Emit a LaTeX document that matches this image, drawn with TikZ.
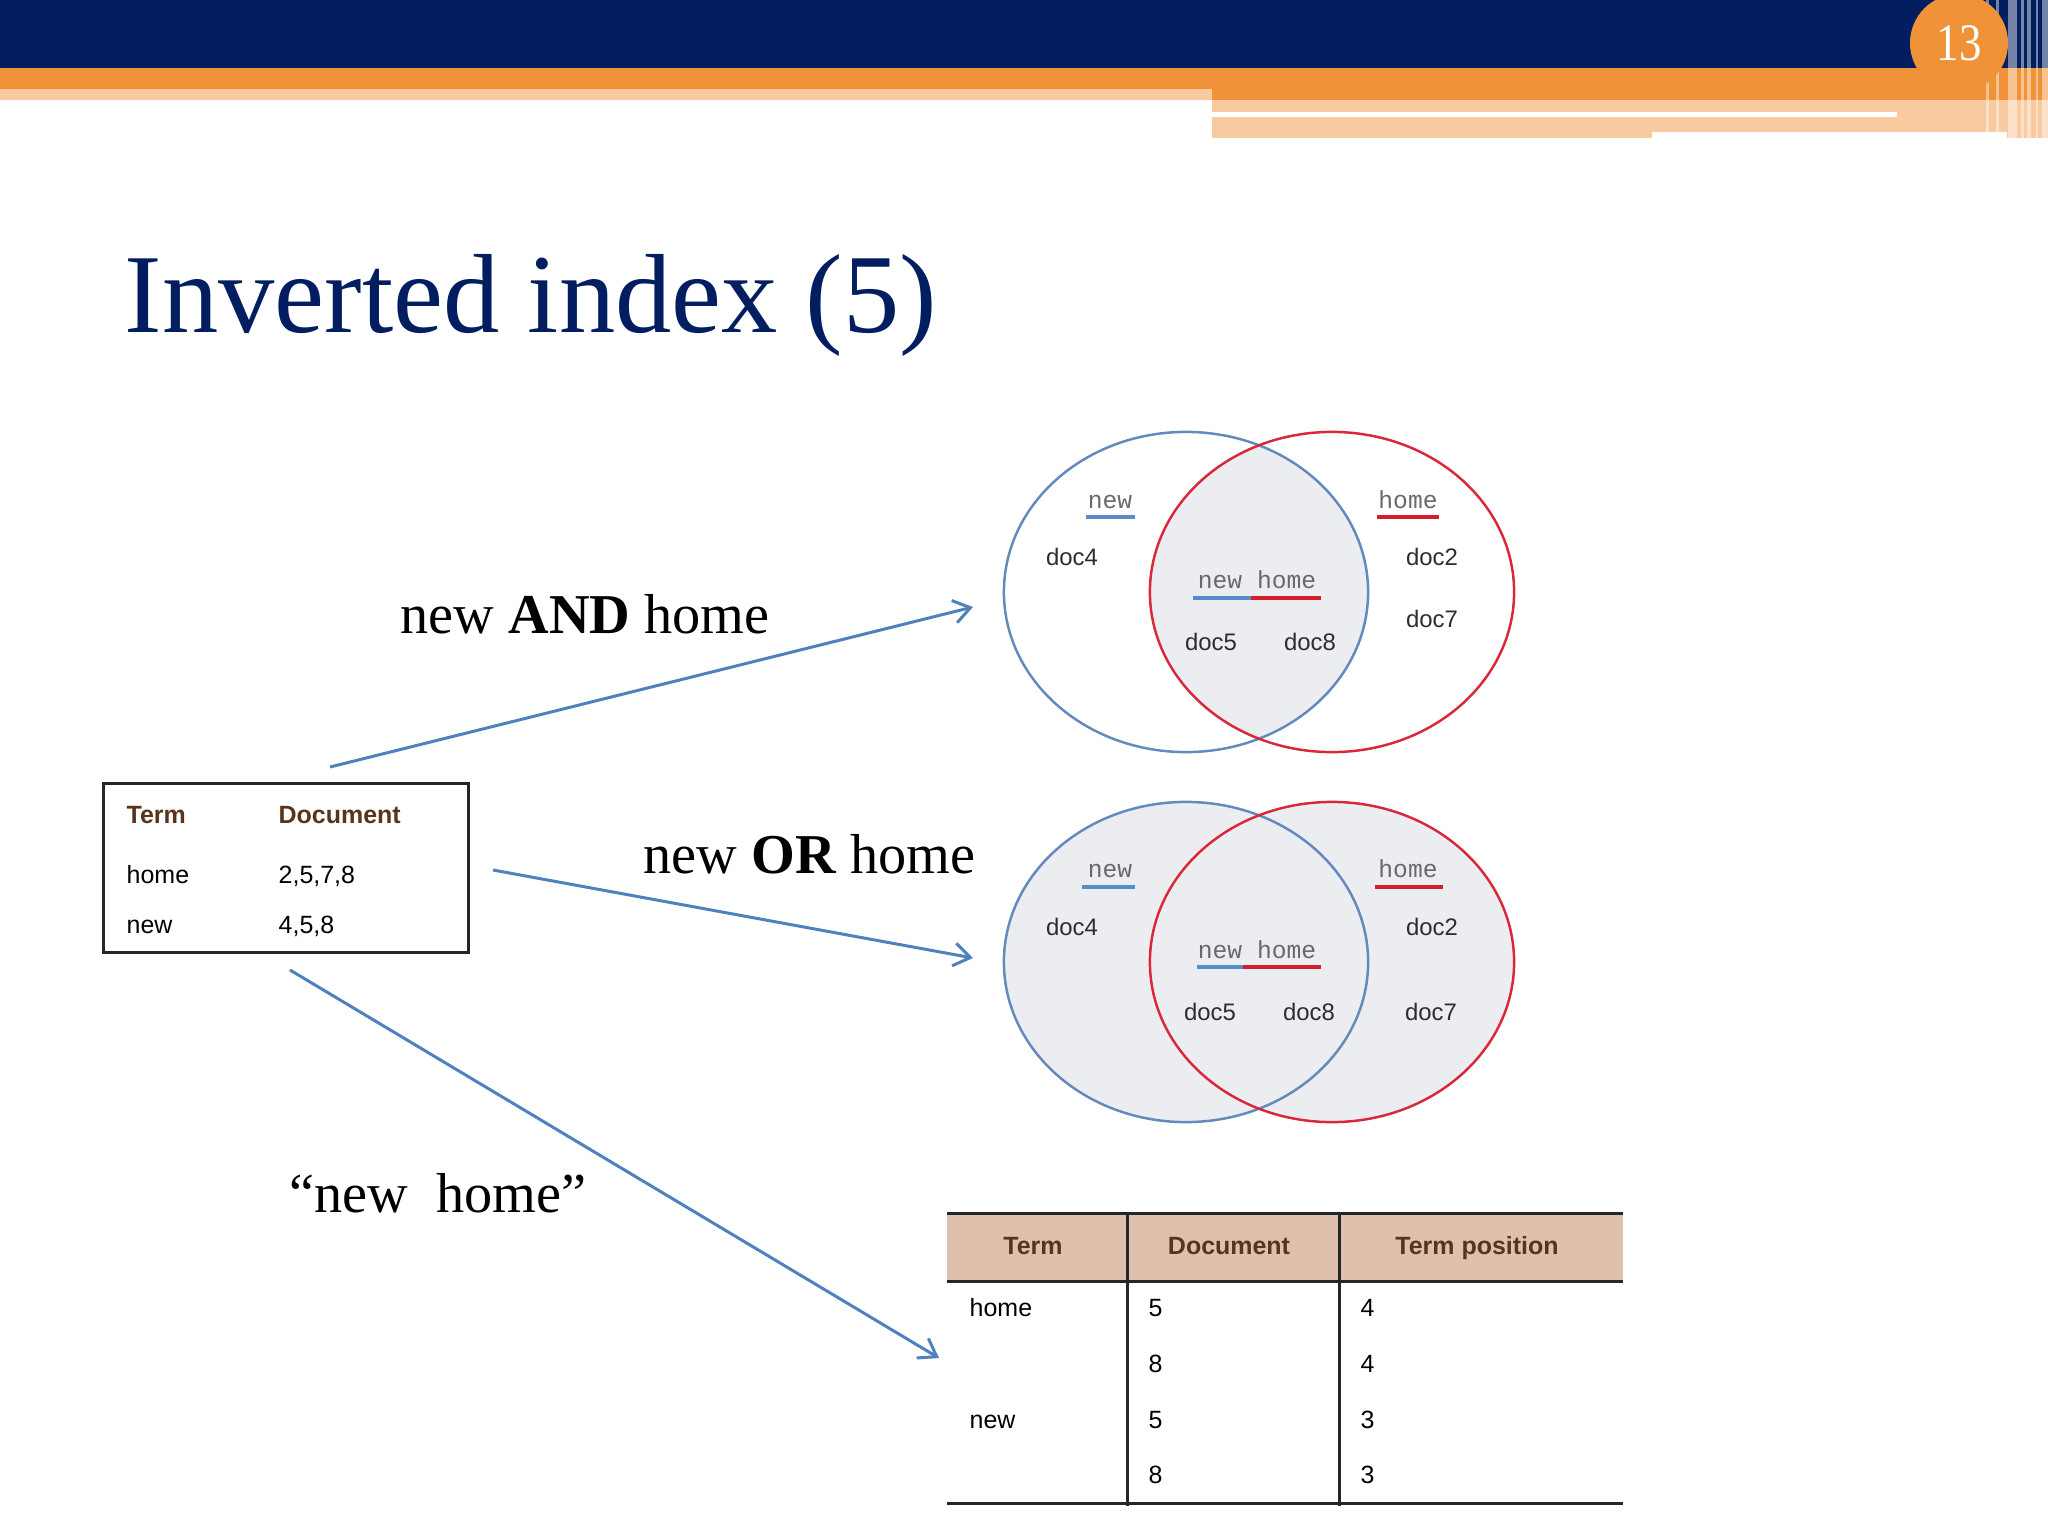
\documentclass[tikz,border=0pt]{standalone}
\usepackage{fontspec}
\setmainfont{Liberation Serif}
\setsansfont{Liberation Sans}
\setmonofont{Liberation Mono}
\usepackage{xcolor}
\usepackage{graphicx}
\usetikzlibrary{shapes,arrows.meta}

\definecolor{navy}{RGB}{2,30,96}
\definecolor{slideorange}{RGB}{240,146,56}
\definecolor{peach}{RGB}{248,202,160}
\definecolor{arrowblue}{RGB}{79,129,189}
\definecolor{vennblue}{RGB}{98,138,188}
\definecolor{vennred}{RGB}{218,40,58}
\definecolor{venngray}{RGB}{236,237,241}
\definecolor{barblue}{RGB}{88,140,200}
\definecolor{barred}{RGB}{210,30,45}
\definecolor{wordgray}{RGB}{105,105,105}
\definecolor{doctext}{RGB}{45,45,45}
\definecolor{headbrown}{RGB}{89,52,27}
\definecolor{tan}{RGB}{222,192,172}

\begin{document}
\begin{tikzpicture}[
    x=0.01cm, y=-0.01cm,
    slidetitle/.style={anchor=base west, inner sep=0pt, text=navy, font=\fontsize{32}{38}\selectfont},
    querylabel/.style={anchor=base west, inner sep=0pt, font=\fontsize{16}{19}\selectfont},
    vennring/.style={ellipse, draw, line width=0.7pt, minimum width=3.64cm, minimum height=3.2cm, inner sep=0pt},
    docname/.style={anchor=base, inner sep=0pt, text=doctext, font=\sffamily\fontsize{6.8}{8}\selectfont},
    termword/.style={anchor=base, inner sep=0pt, text=wordgray, font=\ttfamily\fontsize{7}{8}\selectfont},
    underbar/.style={line width=1pt},
    cellsans/.style={anchor=base west, inner sep=0pt, text=black, font=\sffamily\fontsize{7.1}{8.5}\selectfont},
    cellhead/.style={anchor=base west, inner sep=0pt, text=headbrown, font=\sffamily\bfseries\fontsize{7.1}{8.5}\selectfont},
    tablerule/.style={line width=0.85pt, black!85},
    link/.style={-{Straight Barb[length=4.7pt, width=6.5pt]}, line width=0.85pt, arrowblue}
]

% Page
\fill[white] (0,0) rectangle (2048,1536);
\useasboundingbox (0,0) rectangle (2048,1536);
\clip (0,0) rectangle (2048,1536);

% Slide header
\fill[navy] (0,0) rectangle (2048,68);
\fill[slideorange] (0,68) rectangle (2048,89);
\fill[slideorange] (1212,89) rectangle (2048,100);
\fill[peach] (0,89) rectangle (1212,100);
\fill[peach] (1212,100) rectangle (2048,138);
\fill[white] (1212,112) rectangle (1897,117);
\fill[white] (1652,132) rectangle (2007,138);
\fill[white, opacity=0.45] (1986,0) rectangle (1989,138);
\fill[white, opacity=0.45] (1996,0) rectangle (1999,138);
\fill[white, opacity=0.45] (2008,0) rectangle (2017,138);
\fill[white, opacity=0.45] (2021,0) rectangle (2024,138);
\fill[white, opacity=0.45] (2027,0) rectangle (2031,138);
\fill[white, opacity=0.45] (2036,0) rectangle (2038,138);
\fill[white, opacity=0.45] (2042,0) rectangle (2048,138);
\node[circle, fill=slideorange, minimum size=0.98cm, inner sep=0pt, text=white, font=\fontsize{15}{18}\selectfont] (pagenum) at (1959,43) {\scalebox{0.85}[1]{13}};

% Title
\node[slidetitle] (title) at (124,332) {Inverted index (5)};

% Term / document table
\node[draw=black!85, line width=0.85pt, minimum width=3.64cm, minimum height=1.69cm, inner sep=0pt] (postings) at (286,868) {};
\node[cellhead] (termhead) at (126,823) {Term};
\node[cellhead] (dochead) at (278,823) {Document};
\node[cellsans] (homerow) at (126,883) {home};
\node[cellsans] (homedocs) at (278,883) {2,5,7,8};
\node[cellsans] (newrow) at (126,933) {new};
\node[cellsans] (newdocs) at (278,933) {4,5,8};

% Query labels
\node[querylabel] (andlabel) at (400,633) {new \textbf{AND} home};
\node[querylabel] (orlabel) at (643,873) {new \textbf{OR} home};
\node[querylabel] (phraselabel) at (289,1212) {“new\ \ home”};

% AND diagram
\begin{scope}
\clip (1186,592) ellipse [x radius=1.82cm, y radius=1.6cm];
\fill[venngray] (1332,592) ellipse [x radius=1.82cm, y radius=1.6cm];
\end{scope}
\node[vennring, draw=vennblue] (andnew) at (1186,592) {};
\node[vennring, draw=vennred] (andhome) at (1332,592) {};
\node[termword] (andnewword) at (1110,508) {new};
\draw[underbar, barblue] (1086,517) -- (1135,517);
\node[termword] (andhomeword) at (1408,508) {home};
\draw[underbar, barred] (1377,517) -- (1439,517);
\node[docname] (anddoc4) at (1072,565) {doc4};
\node[docname] (anddoc2) at (1432,565) {doc2};
\node[docname] (anddoc7) at (1432,627) {doc7};
\node[termword] (andboth) at (1257,588) {new home};
\draw[underbar, barblue] (1193,598) -- (1251,598);
\draw[underbar, barred] (1251,598) -- (1321,598);
\node[docname] (anddoc5) at (1211,650) {doc5};
\node[docname] (anddoc8) at (1310,650) {doc8};

% OR diagram
\fill[venngray] (1186,962) ellipse [x radius=1.82cm, y radius=1.6cm];
\fill[venngray] (1332,962) ellipse [x radius=1.82cm, y radius=1.6cm];
\node[vennring, draw=vennblue] (ornew) at (1186,962) {};
\node[vennring, draw=vennred] (orhome) at (1332,962) {};
\node[termword] (ornewword) at (1110,877) {new};
\draw[underbar, barblue] (1082,887) -- (1135,887);
\node[termword] (orhomeword) at (1408,877) {home};
\draw[underbar, barred] (1375,887) -- (1443,887);
\node[docname] (ordoc4) at (1072,935) {doc4};
\node[docname] (ordoc2) at (1432,935) {doc2};
\node[termword] (orboth) at (1257,958) {new home};
\draw[underbar, barblue] (1197,967) -- (1243,967);
\draw[underbar, barred] (1243,967) -- (1321,967);
\node[docname] (ordoc5) at (1210,1020) {doc5};
\node[docname] (ordoc8) at (1309,1020) {doc8};
\node[docname] (ordoc7) at (1431,1020) {doc7};

% Positional table
\fill[tan] (947,1213) rectangle (1623,1281);
\draw[tablerule] (947,1213) -- (1623,1213);
\draw[tablerule] (947,1281) -- (1623,1281);
\draw[tablerule] (947,1503) -- (1623,1503);
\draw[tablerule] (1127,1213) -- (1127,1506);
\draw[tablerule] (1339,1213) -- (1339,1506);
\node[cellhead, anchor=base] (posterm) at (1033,1254) {Term};
\node[cellhead, anchor=base] (posdoc) at (1229,1254) {Document};
\node[cellhead, anchor=base] (pospos) at (1477,1254) {Term position};
\node[cellsans] (poshome) at (969,1316) {home};
\node[cellsans] (posd1) at (1148,1316) {5};
\node[cellsans] (posp1) at (1360,1316) {4};
\node[cellsans] (posd2) at (1148,1372) {8};
\node[cellsans] (posp2) at (1360,1372) {4};
\node[cellsans] (posnew) at (969,1428) {new};
\node[cellsans] (posd3) at (1148,1428) {5};
\node[cellsans] (posp3) at (1360,1428) {3};
\node[cellsans] (posd4) at (1148,1483) {8};
\node[cellsans] (posp4) at (1360,1483) {3};

% Arrows
\coordinate (andfrom) at (330,767);
\coordinate (andto) at (973,607);
\coordinate (orfrom) at (493,870);
\coordinate (orto) at (973,958);
\coordinate (phrasefrom) at (290,970);
\coordinate (phraseto) at (939,1358);
\draw[link] (andfrom) -- (andto);
\draw[link] (orfrom) -- (orto);
\draw[link] (phrasefrom) -- (phraseto);

\end{tikzpicture}
\end{document}
